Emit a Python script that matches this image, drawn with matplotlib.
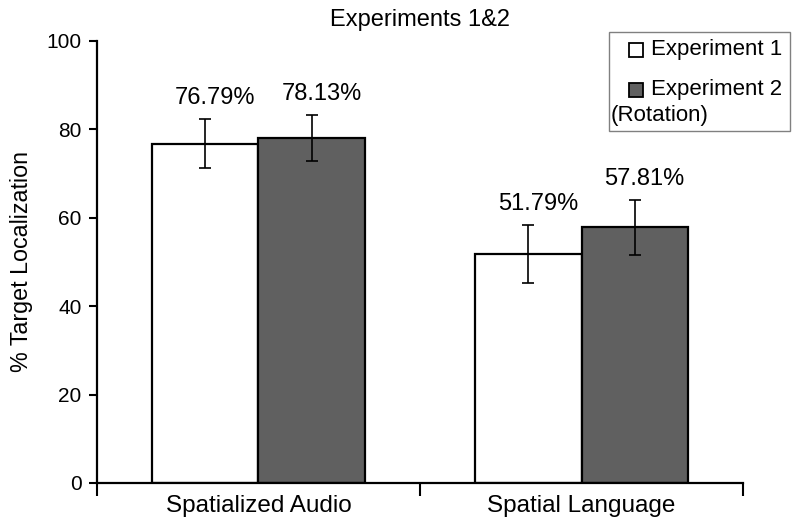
import matplotlib
matplotlib.use('Agg')
import matplotlib.pyplot as plt
from matplotlib.patches import Rectangle
import numpy as np

# Data
categories = ['Spatialized Audio', 'Spatial Language']
series_names = ['Experiment 1', 'Experiment 2']
exp1 = [76.79, 51.79]
exp2 = [78.13, 57.81]
exp1_err = [5.6, 6.6]
exp2_err = [5.2, 6.3]
colors = ['white', '#606060']

plt.rcParams['font.family'] = ['Liberation Sans', 'DejaVu Sans']

fig = plt.figure(figsize=(7.95, 5.17), dpi=100)
ax = fig.add_axes([0.122, 0.0658, 0.8126, 0.8549])

x = np.arange(len(categories))
width = 0.331
values = [exp1, exp2]
errors = [exp1_err, exp2_err]
offsets = [-width / 2, width / 2]

for vals, errs, off, col in zip(values, errors, offsets, colors):
    ax.bar(x + off, vals, width=width, color=col, edgecolor='black',
           linewidth=1.6, zorder=2)
    ax.errorbar(x + off, vals, yerr=errs, fmt='none', ecolor='black',
                elinewidth=1.2, capsize=4, capthick=1.2, zorder=3)
    for xi, v, e in zip(x + off, vals, errs):
        ax.annotate('{:.2f}%'.format(v), xy=(xi, v + e), xytext=(7, 15),
                    textcoords='offset points', ha='center', va='center',
                    fontsize=17)

ax.set_xlim(-0.5, len(categories) - 0.5)
ax.set_ylim(0, 100)
ax.set_yticks(np.arange(0, 101, 20))
ax.tick_params(axis='y', length=6, width=1.5, labelsize=15, pad=5)

# category labels sit between boundary ticks
ax.set_xticks(np.arange(-0.5, len(categories), 1.0))
ax.set_xticklabels([])
ax.tick_params(axis='x', which='major', length=9, width=1.5)
ax.set_xticks(x, minor=True)
ax.set_xticklabels(categories, minor=True, fontsize=17.5)
ax.tick_params(axis='x', which='minor', length=0, pad=9)

for side in ['top', 'right']:
    ax.spines[side].set_visible(False)
for side in ['left', 'bottom']:
    ax.spines[side].set_linewidth(1.6)

ax.set_ylabel('% Target Localization', fontsize=16.75)
ax.yaxis.set_label_coords(-0.099, 0.5)
ax.set_title('Experiments 1&2', fontsize=17, pad=11)

# legend box drawn by hand: second label wraps under the swatch
W, H = fig.get_size_inches() * fig.dpi
def fx(px):
    return px / W
def fy(py):
    return 1 - py / H

fig.patches.append(Rectangle((fx(609), fy(131)), fx(790) - fx(609), fy(32) - fy(131),
                             transform=fig.transFigure, facecolor='white',
                             edgecolor='#808080', linewidth=1.0))
for col, name, yc in zip(colors, series_names, [50, 90]):
    fig.patches.append(Rectangle((fx(629), fy(yc + 7)), fx(14), 14 / H,
                                 transform=fig.transFigure, facecolor=col,
                                 edgecolor='black', linewidth=1.3))
    fig.text(fx(651), fy(yc), name, ha='left', va='center', fontsize=16)
fig.text(fx(611), fy(116), '(Rotation)', ha='left', va='center', fontsize=16)

fig.savefig('out.png', dpi=100)
